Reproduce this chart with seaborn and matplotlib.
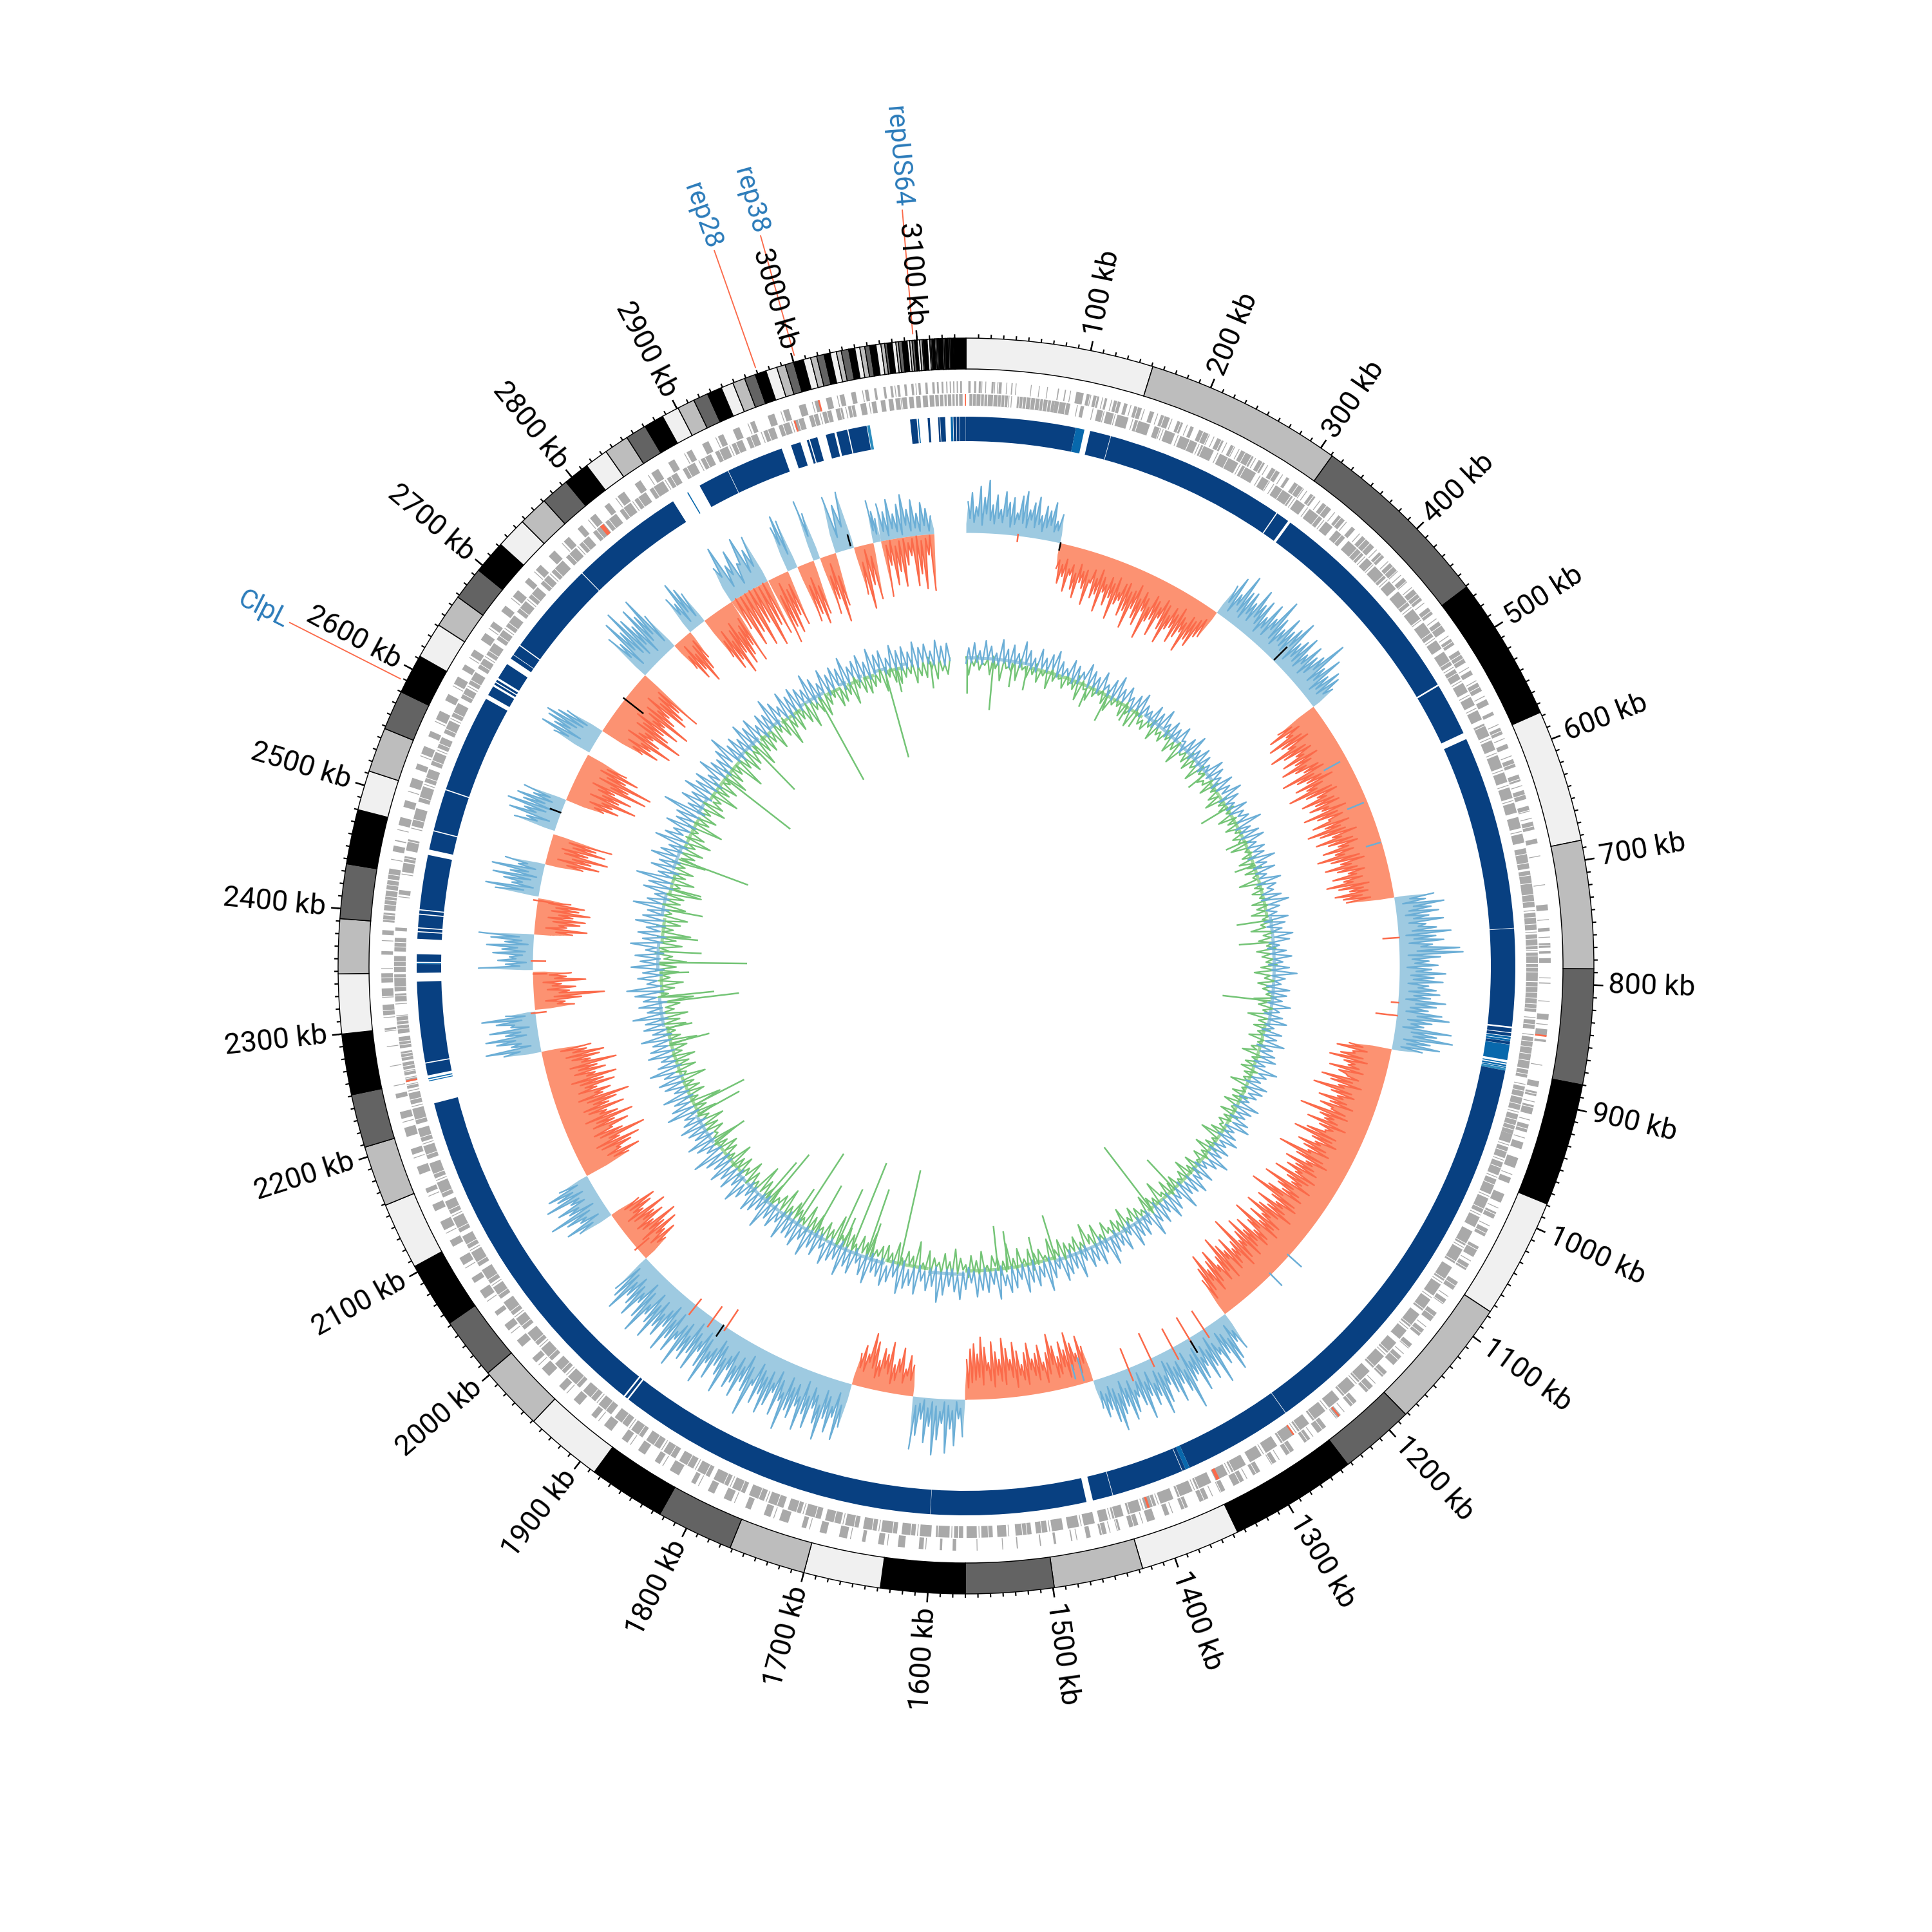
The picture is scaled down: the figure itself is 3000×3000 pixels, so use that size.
import numpy as np
import pandas as pd
import matplotlib
matplotlib.use("Agg")
import matplotlib.pyplot as plt
import seaborn as sns

# genome size and ideogram bands (kb), colours cycle light/mid/dark/black
GENOME_KB = 3139
band_ends = [151, 311, 461, 577, 684, 787, 880, 979, 1076, 1182, 1243, 1346, 1427, 1499, 1570, 1638,
             1700, 1762, 1824, 1886, 1949, 2002, 2052, 2105, 2159, 2208, 2251, 2300, 2348, 2392, 2436, 2480,
             2512, 2548, 2580, 2612, 2641, 2668, 2695, 2722, 2747, 2771, 2794, 2815, 2834, 2854, 2871, 2887,
             2901, 2915, 2927, 2939, 2949, 2959, 2968, 2977, 2986, 2993, 3000, 3008, 3014, 3019, 3025, 3030,
             3035, 3039, 3045, 3050, 3054, 3058, 3062, 3067, 3071, 3074, 3076, 3080, 3083, 3085, 3088, 3092,
             3094, 3096, 3098, 3100, 3102, 3104, 3105, 3108, 3110, 3111, 3112, 3114, 3115, 3116, 3117, 3120,
             3120.3, 3121.4, 3122.5, 3124.3, 3125, 3126, 3127, 3129, 3129.5, 3130, 3130.4, 3139]
band_colors = ["#f0f0f0", "#bdbdbd", "#636363", "#000000"]

# annotated loci: label, position in kb
locus_names = ["repUS64", "rep38", "rep28", "ClpL"]
locus_kb = [3097, 3002, 2970, 2589]

# gene blocks on the two strands (start, length in kb)
fwd_start = [2, 7, 11, 22, 27, 39, 79, 85, 95, 104, 110, 120, 128, 137, 146, 160, 170, 185, 197, 205, 222, 235, 245,
             262, 275, 290, 298, 315, 328, 345, 360, 372, 392, 405, 422, 435, 455, 470, 488, 500, 520, 532, 548, 560,
             575, 590, 604, 618, 632, 646, 660, 675, 732, 752, 765, 772, 778, 799, 826, 839, 848, 884, 893, 905, 922,
             938, 952, 970, 985, 1002, 1018, 1035, 1052, 1070, 1088, 1102, 1120, 1136, 1150, 1168, 1185, 1204, 1222,
             1238, 1255, 1272, 1290, 1306, 1322, 1340, 1356, 1375, 1392, 1405, 1420, 1436, 1448, 1462, 1478, 1492,
             1505, 1525, 1578, 1590, 1606, 1622, 1640, 1656, 1672, 1690, 1708, 1724, 1740, 1758, 1776, 1792, 1810,
             1826, 1845, 1860, 1878, 1895, 1912, 1930, 1948, 1966, 1982, 2000, 2018, 2034, 2052, 2068, 2086, 2104,
             2120, 2138, 2155, 2172, 2190, 2206, 2222, 2240, 2298, 2312, 2327, 2340, 2364, 2381, 2392, 2402, 2420,
             2429, 2453, 2462, 2476, 2492, 2510, 2526, 2540, 2556, 2572, 2590, 2606, 2620, 2634, 2650, 2664, 2680,
             2696, 2712, 2726, 2742, 2760, 2776, 2790, 2806, 2820, 2838, 2855, 2872, 2890, 2905, 2920, 2934, 2950,
             2966, 2980, 2994, 3008, 3018, 3030, 3040, 3052, 3060, 3068, 3074, 3080, 3086, 3092, 3098, 3104, 3110,
             3114, 3118, 3122, 3125, 3128, 3131, 3134]
fwd_len = [2, 2, 3, 3, 4, 1, 1, 1, 6, 4, 5, 2, 6, 3, 7, 4, 8, 5, 3, 10, 6, 4, 12,
           6, 8, 3, 10, 5, 9, 7, 4, 14, 6, 10, 5, 12, 7, 10, 6, 12, 4, 8, 5, 3,
           6, 4, 7, 6, 8, 5, 7, 4, 5, 3, 4, 2, 4, 1, 5, 6, 2, 5, 4, 8, 7,
           6, 9, 5, 8, 6, 7, 10, 6, 8, 5, 9, 7, 5, 10, 6, 8, 7, 5,
           9, 6, 8, 5, 7, 10, 5, 8, 6, 4, 7, 8, 3, 6, 4, 1, 2,
           1, 1, 3, 2, 4, 6, 5, 3, 7, 6, 4, 8, 6, 5, 7, 6, 4,
           9, 5, 7, 6, 8, 5, 7, 6, 9, 5, 7, 6, 4, 8, 5, 7, 6,
           8, 6, 4, 7, 5, 8, 6, 4, 3, 9, 8, 8, 3, 4, 8, 17, 8,
           9, 5, 1, 7, 6, 8, 5, 7, 5, 8, 6, 7, 5, 6, 7, 5, 6,
           7, 5, 6, 7, 6, 5, 6, 5, 7, 6, 7, 6, 5, 6, 5, 6, 4,
           6, 5, 6, 4, 5, 4, 4, 3, 2, 2, 2, 2, 2, 2, 2, 2, 2,
           1.5, 1.5, 1, 1, 1, 1, 1.5]
rev_start = [3, 45, 78, 101, 116, 124, 134, 150, 168, 178, 192, 212, 230, 252, 272, 286, 308, 322, 340, 352, 366,
             388, 398, 416, 428, 448, 463, 482, 494, 512, 526, 540, 553, 566, 582, 596, 612, 626, 640, 653, 668, 681,
             701, 738, 757, 773, 783, 799, 832, 847, 876, 891, 901, 916, 934, 946, 960, 976, 994, 1012, 1026, 1044,
             1062, 1080, 1096, 1112, 1130, 1144, 1160, 1178, 1196, 1214, 1230, 1248, 1264, 1282, 1298, 1314, 1332,
             1348, 1366, 1384, 1400, 1414, 1430, 1444, 1456, 1470, 1484, 1498, 1512, 1534, 1546, 1560, 1572, 1584,
             1600, 1614, 1630, 1648, 1664, 1680, 1698, 1716, 1732, 1750, 1768, 1784, 1802, 1818, 1836, 1852, 1870,
             1886, 1904, 1922, 1940, 1958, 1974, 1992, 2010, 2026, 2044, 2060, 2078, 2096, 2112, 2130, 2146, 2164,
             2182, 2198, 2214, 2232, 2246, 2252, 2258, 2263, 2271, 2282, 2295, 2303, 2323, 2332, 2349, 2367, 2385,
             2417, 2437, 2446, 2456, 2478, 2500, 2518, 2534, 2550, 2564, 2580, 2598, 2612, 2628, 2642, 2658, 2672,
             2688, 2704, 2720, 2734, 2752, 2768, 2784, 2798, 2814, 2830, 2846, 2864, 2880, 2898, 2912, 2928, 2942,
             2958, 2972, 2986, 3000, 3012, 3024, 3035, 3046, 3056, 3064, 3071, 3077, 3083, 3089, 3095, 3101, 3107,
             3112, 3116, 3120, 3123, 3127, 3130, 3133]
rev_len = [35, 33, 14, 3, 5, 7, 10, 14, 6, 9, 16, 12, 18, 14, 8, 18, 9, 14, 8, 10, 18,
           7, 14, 9, 16, 11, 15, 9, 14, 10, 9, 8, 9, 12, 9, 12, 9, 10, 9, 10, 8, 18,
           32, 15, 13, 9, 15, 26, 8, 28, 7, 9, 11, 18, 8, 10, 12, 14, 14, 10, 14, 14,
           14, 12, 12, 14, 10, 12, 14, 14, 14, 12, 14, 12, 14, 12, 12, 14, 12,
           14, 14, 12, 10, 12, 10, 8, 10, 10, 10, 10, 14, 8, 10, 9, 8, 12,
           10, 12, 14, 12, 12, 14, 14, 12, 14, 14, 12, 14, 12, 14, 12, 14, 12,
           14, 14, 14, 14, 12, 14, 14, 12, 14, 12, 14, 14, 12, 14, 12, 14, 14,
           12, 12, 14, 10, 4, 4, 4, 6, 8, 10, 7, 8, 7, 15, 14, 12, 3,
           4, 8, 5, 10, 16, 14, 12, 12, 10, 12, 13, 10, 12, 10, 12, 10, 12,
           12, 12, 10, 14, 12, 11, 10, 12, 12, 12, 14, 10, 12, 10, 12, 10, 10,
           10, 10, 9, 8, 8, 6, 6, 5, 4, 4, 4, 4, 4, 4, 4, 4, 4,
           3, 3, 2, 3, 2, 2, 3]
# single thin genes standing alone on each strand (kb)
fwd_thin_kb = [17, 35, 43, 56, 63, 70, 90, 101, 118, 126, 143, 155, 167, 180, 194, 219, 231, 243, 259, 271, 286, 311, 325, 341, 354, 369,
               389, 403, 419, 433, 450, 467, 485, 517, 530, 545, 572, 585, 601, 628, 657, 690, 715, 745, 760, 795, 815, 835, 870, 902, 918,
               934, 967, 998, 1015, 1049, 1085, 1117, 1147, 1182, 1218, 1252, 1287, 1319, 1352, 1389, 1416, 1445, 1474, 1538, 1560, 1604, 1637,
               1669, 1705, 1737, 1773, 1807, 1842, 1875, 1909, 1945, 1979, 2015, 2049, 2083, 2117, 2152, 2187, 2219, 2251, 2268, 2285, 2310, 2352,
               2376, 2446, 2472, 2506, 2538, 2570, 2604, 2632, 2662, 2694, 2724, 2758, 2788, 2818, 2852, 2888, 2918, 2948, 2978, 3006, 3028, 3050, 3078, 3096]
rev_thin_kb = [40, 98, 112, 122, 132, 148, 176, 190, 210, 228, 250, 270, 284, 306, 320, 338, 386, 396, 414, 446, 460, 480, 510, 524, 538,
               551, 580, 594, 610, 624, 638, 666, 736, 755, 771, 830, 845, 873, 889, 914, 944, 958, 974, 992, 1010, 1042, 1078, 1094, 1128, 1158,
               1194, 1228, 1262, 1296, 1330, 1364, 1398, 1412, 1442, 1468, 1496, 1532, 1558, 1582, 1612, 1646, 1678, 1714, 1748, 1782, 1816, 1850,
               1884, 1920, 1956, 1990, 2024, 2058, 2094, 2128, 2162, 2196, 2230, 2244, 2269, 2301, 2321, 2415, 2435, 2476, 2516, 2548, 2578, 2610,
               2640, 2670, 2702, 2732, 2766, 2796, 2828, 2862, 2896, 2926, 2956, 2984, 3010, 3033, 3054, 3082, 3105]
# thin white breaks between neighbouring genes (kb)
gene_cut_kb = [6, 9, 13, 16, 19, 24, 28, 31, 34, 37, 47, 50, 53, 57, 61, 65, 68, 72, 75, 82, 88, 92, 107, 113, 131, 149, 153, 164, 173, 188,
               201, 209, 214, 226, 238, 249, 255, 266, 279, 293, 302, 307, 318, 332, 348, 358, 364, 376, 381, 395, 409, 414, 426, 440, 444, 459,
               474, 491, 504, 508, 516, 536, 568, 578, 608, 622, 636, 650, 664, 686, 694, 705, 712, 722, 728, 742, 748, 761, 767, 776, 786, 790,
               803, 808, 813, 818, 822, 836, 851, 856, 862, 868, 880, 895, 907, 921, 926, 930, 950, 965, 981, 1004, 1022, 1038, 1056, 1074, 1092,
               1106, 1124, 1140, 1154, 1172, 1190, 1208, 1226, 1242, 1258, 1276, 1294, 1310, 1326, 1344, 1360, 1378, 1403, 1424, 1438, 1452, 1466,
               1481, 1503, 1516, 1520, 1550, 1576, 1594, 1618, 1634, 1652, 1668, 1686, 1703, 1720, 1738, 1755, 1772, 1788, 1806, 1824, 1841, 1858,
               1874, 1892, 1910, 1927, 1944, 1962, 1978, 1996, 2014, 2030, 2048, 2064, 2082, 2100, 2116, 2134, 2150, 2168, 2186, 2202, 2218, 2236,
               2249, 2255, 2261, 2266, 2274, 2277, 2285, 2288, 2299, 2306, 2310, 2316, 2328, 2336, 2344, 2354, 2358, 2371, 2375, 2394, 2398, 2407,
               2411, 2414, 2424, 2433, 2449, 2464, 2468, 2484, 2504, 2522, 2538, 2554, 2568, 2584, 2602, 2616, 2632, 2646, 2662, 2676, 2692, 2708,
               2724, 2738, 2756, 2772, 2788, 2802, 2818, 2834, 2850, 2868, 2884, 2902, 2916, 2932, 2946, 2962, 2976, 2990, 3004, 3016, 3028, 3038]
# orange marks among the gene blocks (kb, track radius, width)
mark_kb = [844, 1223, 1264, 1340, 1406, 2252, 2792, 2986, 3011, 3138]
mark_r = [890, 890, 870, 870, 870, 870, 870, 870, 890, 870]
mark_w = [1.5, 1.5, 1.5, 3, 2, 1.5, 4, 1.5, 1.5, 1]

# heatmap ring segments (start, end kb, shade)
ring_start = [0, 100.7, 114, 133.5, 301, 315.5, 517.5, 572, 750.5, 841.5, 846, 849.3, 851.7, 853.7, 856.5, 873, 875, 877,
              878.3, 880.5, 1259.5, 1360, 1364, 1367.5, 1434.5, 1459, 1602.3, 1901.5, 1905.5, 2248.5, 2250.5, 2254, 2266,
              2348, 2356, 2358, 2379, 2386, 2389.5, 2402, 2406, 2461, 2479, 2518, 2612, 2623, 2626, 2630, 2651, 2655.5,
              2666, 2752.7, 2873, 2886, 2915.5, 2977, 2992, 2995, 3010, 3020, 3031, 3048.5, 3088, 3095, 3104, 3113.5,
              3115.5, 3125, 3127.5, 3130.5, 3133.5]
ring_end = [100.7, 108.6, 133, 300, 313, 516, 566, 750, 840, 845.3, 848.7, 851.2, 853.5, 856.3, 870.8, 874, 876.5, 878,
            880.5, 1259, 1360, 1364, 1367, 1434, 1453, 1602, 1900, 1904, 2228, 2249.3, 2251.5, 2265, 2340,
            2356, 2357, 2365, 2385, 2388.5, 2401, 2405, 2456, 2478, 2517, 2608, 2621, 2625, 2628, 2645, 2655, 2665,
            2752, 2858, 2874, 2915, 2968, 2986, 2994, 3002, 3018, 3030, 3048, 3051, 3094, 3096, 3106, 3115,
            3120, 3127, 3130, 3133, 3138.8]
ring_shade = [0, 1, 0, 0, 0, 0, 0, 0, 0, 0, 0, 1, 1, 0, 1, 1, 1, 1,
              2, 0, 0, 1, 0, 0, 0, 0, 0, 0, 0, 1, 1, 0, 0,
              0, 1, 0, 0, 0, 0, 0, 0, 0, 0, 0, 0, 0, 0, 0, 0, 0,
              0, 0, 1, 0, 0, 0, 0, 0, 0, 0, 0, 2, 0, 1, 0, 0,
              0, 1, 0, 0, 0]
ring_colors = ["#084081", "#0868ac", "#2b8cbe"]

# strand-bias histogram: sectors and spike heights (px from the base radius)
sector_start = [0, 109, 308, 464, 705, 881, 1250, 1421, 1571, 1631, 1703, 1985, 2049, 2102, 2255, 2304, 2350, 2391,
                2435, 2473, 2513, 2551, 2612, 2641, 2722, 2770, 2794, 2815, 2853, 2902, 2927, 2939, 2959, 2967, 2986,
                3008, 3031, 3040, 3040, 2853]
sector_end = [109, 308, 464, 705, 881, 1250, 1421, 1571, 1631, 1703, 1985, 2049, 2102, 2255, 2302, 2348, 2391, 2433,
              2473, 2509, 2551, 2609, 2641, 2722, 2770, 2794, 2815, 2853, 2901, 2927, 2939, 2959, 2967, 2986, 3008,
              3031, 3040, 3102, 3102, 2901]
sector_sign = [1, -1, 1, -1, 1, -1, 1, -1, 1, -1, 1, -1, 1, -1, 1, -1, 1, -1,
               1, -1, 1, -1, 1, -1, 1, -1, 1, -1, 1, -1, 1, -1, 1, -1, 1,
               -1, 1, 1, -1, -1]
sector_peaks = [
    [48, 62, 40, 72, 55, 82, 44, 60, 38, 66, 50, 58, 35, 62, 70, 42, 54, 64, 36, 52, 46, 60, 32, 44],
    [40, 62, 50, 72, 45, 66, 78, 52, 60, 84, 48, 70, 62, 88, 55, 74, 60, 92, 66, 58, 80, 70, 96, 62, 75, 84, 58, 101, 70, 64, 88, 56, 72, 92, 66, 60, 82, 70, 58, 88, 64, 72, 52, 48],
    [52, 70, 45, 82, 58, 62, 48, 76, 55, 66, 42, 70, 50, 88, 60, 46, 72, 54, 64, 82, 48, 58, 70, 44, 66, 52, 60, 93, 50, 74, 46, 62, 56, 40],
    [70, 88, 62, 96, 78, 70, 104, 84, 66, 92, 74, 100, 80, 68, 108, 86, 72, 94, 78, 110, 84, 68, 96, 76, 88, 70, 102, 82, 66, 94, 76, 106, 88, 70, 98, 80, 66, 92, 74, 104, 84, 70, 96, 78, 62, 88, 72, 100, 82, 66, 90, 78, 74],
    [62, 48, 76, 55, 66, 50, 72, 44, 60, 82, 58, 70, 52, 94, 99, 64, 46, 60, 50, 72, 54, 68, 46, 58, 64, 50, 74, 60, 48, 70, 82, 56, 44, 88, 66, 92, 58, 74, 48],
    [66, 84, 58, 76, 92, 68, 60, 88, 72, 56, 96, 80, 66, 104, 74, 62, 90, 70, 84, 64, 112, 78, 68, 94, 72, 60, 88, 106, 74, 66, 92, 80, 70, 116, 84, 64, 96, 76, 88, 70, 102, 78, 66, 110, 84, 72, 94, 120, 80, 68, 98, 76, 88, 106, 74, 92, 70, 112, 84, 66, 96, 78, 104, 86, 72, 118, 80, 70, 94, 76, 90, 108, 78, 66, 96, 82, 70, 100, 80, 62],
    [62, 46, 72, 86, 54, 68, 48, 92, 60, 78, 52, 70, 86, 56, 64, 105, 74, 58, 84, 66, 50, 76, 92, 60, 72, 54, 88, 64, 48, 70, 80, 56, 66, 90, 74, 52, 62, 46],
    [56, 74, 48, 66, 84, 58, 72, 50, 68, 88, 60, 46, 74, 62, 54, 80, 66, 48, 70, 84, 58, 76, 92, 60, 72, 88, 56, 80, 96, 70, 86, 78, 62],
    [58, 30, 72, 46, 84, 38, 64, 88, 44, 70, 34, 60, 82],
    [48, 62, 40, 72, 54, 44, 78, 58, 66, 46, 74, 86, 52, 64, 50],
    [70, 92, 58, 84, 64, 100, 76, 54, 88, 68, 96, 60, 82, 72, 106, 62, 88, 54, 78, 94, 66, 84, 58, 110, 74, 62, 90, 70, 82, 56, 98, 72, 60, 86, 64, 102, 78, 56, 92, 68, 84, 74, 104, 62, 88, 70, 96, 58, 80, 68, 94, 72, 62, 100, 78, 56, 86, 70, 60, 92, 74, 66],
    [44, 66, 52, 78, 60, 85, 48, 70, 58, 82, 46, 64, 74, 50],
    [56, 74, 46, 66, 90, 54, 70, 44, 82, 60, 72, 50],
    [76, 96, 68, 88, 104, 74, 118, 84, 70, 98, 78, 110, 88, 72, 102, 80, 94, 116, 76, 90, 70, 100, 84, 106, 74, 92, 80, 112, 72, 88, 96, 70, 78],
    [58, 85, 44, 66, 82, 50, 74, 40, 62, 84, 46],
    [62, 48, 74, 110, 56, 66, 44, 82, 52, 60],
    [84, 42, 54, 36, 62, 48, 72, 44, 66, 85],
    [60, 82, 50, 70, 78, 58, 84, 66, 74, 52],
    [68, 84, 44, 58, 76, 50, 80, 40, 62],
    [60, 84, 70, 95, 62, 88, 72, 96],
    [66, 48, 78, 56, 85, 62, 74, 50, 68],
    [62, 84, 72, 108, 78, 96, 66, 116, 84, 120, 74, 92, 70],
    [64, 88, 70, 84, 90, 74, 62],
    [72, 96, 80, 112, 88, 74, 120, 94, 82, 104, 76, 116, 86, 72, 100, 90, 78, 110],
    [78, 60, 96, 72, 105, 84, 66, 92, 74, 100, 64],
    [50, 72, 60, 85, 66, 48],
    [62, 48, 80, 66, 54],
    [72, 96, 84, 110, 78, 100, 88, 74, 104],
    [58, 88, 52, 72, 46, 84, 60, 78],
    [108, 84, 96, 70, 88],
    [72, 88, 78],
    [92, 82, 100, 86],
    [96, 74],
    [92, 70, 108, 84],
    [88, 72, 90],
    [76, 100, 64, 88],
    [66, 48, 36],
    [58, 44, 62, 38, 52, 66, 42, 56, 34, 50, 40, 28],
    [88, 40, 72, 52, 76, 44, 30, 78, 60, 84, 32, 88],
    [52, 84, 66, 92, 58, 100, 70, 88],
]
# the low point next to each spike, per sector
sector_lows = [
    [14, 22, 16, 26, 12, 30, 20, 15, 24, 18, 28, 12, 17, 25, 20, 14, 27, 16, 22, 12, 19, 24, 15, 18, 13],
    [18, 26, 32, 22, 36, 28, 40, 24, 34, 30, 44, 26, 38, 22, 32, 42, 28, 36, 24, 46, 30, 26, 38, 34, 22, 42, 28, 36, 48, 26, 32, 40, 24, 30, 44, 28, 36, 22, 34, 40, 26, 30, 24, 18, 14],
    [16, 24, 12, 28, 20, 14, 26, 18, 30, 22, 12, 24, 16, 32, 20, 14, 26, 22, 18, 34, 12, 24, 20, 16, 28, 14, 22, 36, 18, 26, 12, 20, 16, 24, 12],
    [30, 46, 36, 52, 40, 32, 58, 44, 38, 54, 34, 48, 60, 42, 36, 56, 46, 30, 50, 62, 40, 34, 54, 44, 38, 58, 32, 48, 42, 64, 36, 52, 46, 30, 56, 40, 34, 50, 44, 60, 38, 32, 54, 46, 36, 50, 42, 58, 34, 44, 38, 48, 36, 24],
    [16, 24, 12, 28, 20, 14, 26, 18, 32, 22, 12, 24, 16, 34, 28, 14, 20, 24, 12, 26, 18, 22, 14, 30, 16, 24, 12, 28, 20, 14, 32, 18, 24, 12, 26, 30, 16, 22, 14, 12],
    [30, 44, 36, 54, 40, 32, 50, 42, 34, 60, 38, 46, 30, 56, 42, 36, 52, 44, 32, 62, 40, 34, 54, 46, 30, 48, 58, 38, 42, 32, 56, 44, 36, 64, 40, 30, 52, 46, 38, 60, 34, 42, 50, 32, 58, 44, 36, 66, 40, 34, 54, 46, 30, 50, 60, 38, 44, 32, 62, 42, 36, 52, 46, 34, 58, 40, 30, 54, 44, 38, 62, 32, 48, 36, 56, 42, 30, 52, 38, 26, 20],
    [18, 28, 14, 34, 22, 16, 38, 26, 12, 30, 20, 36, 16, 24, 32, 14, 40, 22, 28, 18, 12, 34, 26, 20, 38, 16, 30, 12, 24, 36, 18, 28, 14, 32, 22, 16, 26, 20, 14],
    [20, 30, 16, 36, 24, 14, 32, 22, 18, 40, 26, 14, 34, 20, 28, 38, 16, 24, 32, 14, 30, 42, 20, 26, 36, 18, 28, 44, 22, 34, 30, 26, 18, 14],
    [6, 14, 4, 18, 10, 5, 20, 12, 6, 16, 4, 10, 14, 6],
    [16, 24, 30, 18, 34, 20, 14, 28, 36, 22, 18, 32, 40, 24, 28, 14],
    [24, 36, 18, 42, 28, 20, 46, 32, 22, 38, 16, 44, 26, 34, 20, 48, 30, 18, 40, 24, 36, 28, 20, 50, 32, 16, 38, 26, 44, 22, 34, 42, 24, 18, 36, 46, 28, 20, 40, 30, 16, 44, 26, 34, 50, 22, 38, 18, 30, 42, 24, 36, 20, 46, 28, 16, 40, 32, 22, 36, 26, 18, 14],
    [18, 30, 22, 38, 16, 34, 26, 20, 36, 24, 16, 30, 28, 22, 14],
    [20, 30, 16, 34, 24, 14, 36, 22, 28, 18, 32, 20, 14],
    [36, 52, 44, 62, 40, 34, 58, 46, 38, 66, 42, 50, 34, 60, 44, 38, 56, 48, 36, 64, 40, 52, 46, 34, 60, 42, 50, 38, 58, 44, 36, 48, 30, 22],
    [20, 32, 14, 28, 36, 18, 26, 12, 34, 22, 16, 12],
    [24, 36, 18, 32, 40, 22, 30, 16, 34, 26, 18],
    [14, 20, 10, 26, 16, 12, 24, 8, 18, 22, 12],
    [24, 34, 18, 38, 28, 20, 36, 24, 30, 18, 14],
    [12, 24, 10, 28, 16, 8, 22, 12, 26, 10],
    [22, 34, 18, 40, 26, 20, 36, 28, 18],
    [16, 30, 12, 36, 22, 14, 28, 18, 24, 12],
    [30, 46, 36, 54, 32, 50, 40, 28, 56, 34, 44, 30, 38, 26],
    [26, 40, 22, 44, 36, 28, 24, 20],
    [36, 54, 42, 62, 34, 50, 58, 38, 46, 30, 56, 44, 36, 52, 28, 48, 40, 34, 26],
    [20, 34, 14, 38, 26, 18, 32, 12, 28, 36, 16, 12],
    [16, 28, 12, 32, 20, 14, 10],
    [18, 30, 12, 26, 14, 10],
    [24, 44, 30, 52, 36, 26, 46, 38, 28, 20],
    [26, 40, 18, 34, 14, 42, 24, 30, 18],
    [18, 30, 12, 26, 20, 10],
    [28, 42, 24, 16],
    [20, 34, 24, 40, 16],
    [26, 38, 18],
    [18, 32, 14, 36, 12],
    [30, 22, 36, 14],
    [12, 26, 8, 20, 14],
    [10, 18, 12, 8],
    [8, 14, 6, 16, 10, 4, 18, 8, 12, 6, 14, 5, 8],
    [3, 8, 2, 12, 5, 3, 10, 4, 1, 9, 6, 2, 4],
    [1, 0, 2, 1, 0, 1, 3, 0, 1],
]
# single spikes lying across the sectors (kb, inner r, outer r, colour)
cross_kb = [752, 827, 842, 60, 1280, 1300, 1322, 1350, 1378, 2000, 1905, 1880, 1862, 2430, 2360, 2345, 2300, 535, 590, 640, 1150, 1180, 1431, 1440,
            2535, 2686, 3005, 394, 110, 1300, 1866]
cross_r0 = [648, 662, 640, 663, 640, 636, 640, 630, 640, 648, 660, 650, 640, 648, 652, 650, 655, 633, 640, 648, 670, 670, 632, 640,
            672, 636, 676, 674, 661, 678, 672]
cross_r1 = [675, 675, 675, 676, 690, 686, 695, 688, 695, 678, 692, 690, 680, 680, 676, 673, 680, 662, 668, 672, 700, 698, 670, 664,
            691, 676, 695, 703, 674, 700, 694]
cross_color = ["o", "o", "o", "o", "o", "o", "o", "o", "o", "o", "o", "o", "o", "o", "o", "o", "o", "b", "b", "b", "b", "b", "b", "b",
               "k", "k", "k", "k", "k", "k", "k"]

# GC ring: spikes outward (blue) and inward (green), px from its base radius
gc_blue = [18, 26, 14, 30, 22, 12, 34, 20, 28, 16, 36, 24, 14, 30, 18, 26, 34, 20, 12, 28, 22, 16, 32, 24, 18, 30, 14, 26, 36, 20,
           28, 16, 24, 32, 18, 14, 28, 22, 34, 16, 26, 20, 30, 12, 24, 36, 18, 28, 22, 14, 32, 26, 16, 30, 20, 34, 24, 12, 28, 18,
           22, 38, 16, 26, 30, 14, 24, 20, 34, 18, 28, 12, 32, 22, 16, 26, 36, 20, 14, 30, 24, 18, 34, 28, 12, 22, 30, 16, 26, 38,
           20, 14, 28, 24, 18, 32, 16, 22, 30, 12, 26, 20, 34, 18, 24, 28, 14, 36, 22, 16, 30, 26, 20, 12, 32, 24, 18, 28, 34, 14,
           22, 30, 16, 26, 20, 38, 24, 12, 30, 18, 34, 26, 22, 40, 16, 28, 36, 20, 32, 24, 42, 18, 30, 26, 38, 14, 34, 22, 28, 44,
           20, 36, 26, 32, 18, 42, 24, 30, 38, 16, 28, 46, 22, 34, 26, 40, 18, 30, 36, 24, 44, 20, 32, 28, 38, 16, 26, 42, 30, 22,
           36, 48, 24, 32, 18, 40, 28, 34, 44, 20, 30, 38, 26, 22, 42, 32, 16, 36, 28, 46, 24, 30, 40, 18, 34, 26, 44, 22, 38, 30,
           28, 42, 20, 34, 26, 48, 24, 32, 38, 18, 30, 44, 22, 36, 28, 40, 26, 34, 50, 20, 32, 42, 24, 30, 38, 28, 22, 46, 34, 26,
           40, 18, 30, 36, 24, 44, 28, 20, 38, 32, 26, 42, 22, 34, 30, 48, 24, 36, 28, 40, 52, 20, 34, 26, 44, 30, 38, 22, 46, 28,
           36, 24, 42, 32, 26, 50, 30, 20, 40, 34, 56, 24, 38, 28, 44, 32, 22, 48, 36, 26, 42, 30, 34, 60, 24, 40, 28, 46, 32, 38,
           22, 44, 30, 26, 36, 52, 28, 34, 24, 42, 30, 38, 20, 32, 26, 46, 34, 22, 40, 28, 36, 30, 24, 44, 32, 20, 38, 26, 34, 28,
           42, 24, 30, 36, 22, 40, 28, 32, 18, 36, 26, 30, 20, 34, 24, 28, 16, 32, 22, 26]
gc_green = [24, 10, 16, 8, 22, 12, 30, 10, 14, 26, 8, 18, 12, 22, 10, 28, 14, 8, 20, 12, 16, 30, 10, 24, 14, 8, 18, 26, 12, 10,
            22, 14, 30, 8, 16, 20, 10, 26, 12, 18, 8, 24, 14, 32, 10, 16, 22, 12, 28, 8, 18, 14, 24, 10, 20, 30, 12, 16, 8, 26,
            14, 22, 10, 18, 12, 28, 8, 16, 24, 14, 20, 10, 34, 12, 18, 8, 22, 16, 26, 10, 14, 30, 12, 20, 8, 24, 16, 10, 18, 28,
            12, 22, 14, 8, 26, 18, 10, 32, 14, 20, 12, 24, 8, 16, 28, 10, 18, 22, 14, 12, 30, 8, 20, 16, 26, 10, 24, 14, 18, 12,
            22, 34, 10, 16, 28, 12, 20, 8, 24, 14, 30, 18, 10, 22, 16, 26, 12, 36, 14, 20, 28, 10, 18, 24, 12, 32, 16, 22, 14, 26,
            10, 30, 18, 38, 12, 24, 16, 20, 28, 14, 34, 10, 22, 18, 26, 12, 30, 16, 40, 14, 20, 24, 10, 32, 18, 26, 12, 22, 36, 16,
            28, 14, 20, 30, 10, 42, 18, 24, 12, 34, 16, 26, 22, 14, 38, 20, 28, 12, 24, 32, 16, 44, 18, 26, 14, 30, 22, 36, 12, 20,
            28, 16, 40, 24, 14, 32, 18, 26, 46, 12, 22, 34, 16, 28, 20, 38, 14, 24, 30, 18, 42, 12, 26, 22, 36, 16, 32, 20, 48, 14,
            28, 24, 18, 40, 12, 30, 22, 34, 16, 26, 44, 20, 14, 32, 24, 38, 18, 28, 50, 12, 22, 36, 16, 30, 26, 42, 20, 14, 34, 24,
            46, 18, 28, 38, 12, 32, 22, 26, 52, 16, 36, 20, 30, 14, 44, 24, 34, 18, 40, 26, 12, 48, 22, 30, 16, 36, 28, 20, 44, 24,
            32, 14, 38, 26, 18, 50, 22, 34, 28, 16, 42, 24, 30, 20, 36, 14, 26, 46, 22, 32, 18, 28, 40, 16, 24, 34, 20, 12, 30, 26,
            18, 36, 14, 24, 28, 20, 16, 32, 12, 22, 26, 18, 14, 30, 20, 24, 12, 28, 16, 22]
# lows cross the base radius, so the blue and green traces weave through each other
gc_low = [-4, 1, -6, 4, -2, -7, 0, -5, 6, -3, -8, 2, -1, -6, 3, -4, -7, -2, 5, -5, 0, -8, -3, 7, -6, 1, -2, -7, 4, -4, -1, -5, 2, -8, -3, 6, 0, -6, -2, 3, -7, -4, 1, -5, 5, -1, -8, -3, 2, -6, 0, 8, -4, -7, -2, 4, -5, 1, -8, -1,
          -3, -6, 3, -4, 6, -7, 0, -2, -5, 2, -8, -3, 5, -6, -1, 1, -7, -4, 4, -2, -5, 7, -8, 0, -3, -6, 2, -1, -7, -4, 3, -5, 1, -2, -8, 5, -6, -3, 0, -4,
          -7, 2, -1, -5, 6, -8, -2, 1, -6, -3, 4, -4, 0, -7, -5, 3, -2, -8, -1, 8, -6, -3, 2, -4, -7, 1, -5, 5, -2, -8, 0, -6, 4, -3, -1, -7, -4, 7, -5, 2,
          -8, -2, 1, -6, 3, -3, -7, 0, -4, 6, -5, -1, -8, 4, -2, -6, 2, -3, -7, 1, -4, -5, 5, -1, -8, -2, 3, -6, 0, -3, -7, 8, -4, 1, -5, -1, -8, 4, -2, -6,
          2, -3, 6, -7, 0, -4, -5, 3, -1, -8, -2, 1, -6, 5, -3, -7, 2, -4, 0, -5, 7, -8, -1, -2, -6, 4, -3, -7, 1, -4, 3, -5, -8, 0, 6, -2, -6, -3, 2, -7,
          -1, -4, 4, -5, 1, -8, -2, -6, 5, -3, -7, 0, 8, -4, -5, 2, -1, -8, 3, -2, -6, -3, 1, -7, 6, -4, 0, -5, -8, 4, -1, -2, -6, 2, -3, -7, -4, 5, 1, -5,
          -8, 0, -2, 3, -6, -3, 7, -7, -1, -4, -5, 2, -8, 4, -2, 1, -6, -3, -7, 0, 6, -4, -5, -1, -8, 3, -2, -6, 5, -3, 2, -7, -4, 1, -5, 0, -8, 8, -1, -2,
          -6, 4, -3, -7, -4, 2, -5, 1, -8, 6, 0, -2, -6, -3, 3, -7, -1, -4, 5, -5, -8, 1, -2, -6, 4, -3, 0, -7, -4, 2, -5, -1, -8, -2, -6, -3, 1, -7, -4, -5, -6]

long_green_kb = [2, 45, 76, 101, 205, 241, 278, 298, 447, 513, 575, 617, 710, 746, 842, 1194, 1244, 1421, 1456, 1500, 1517, 1679, 1729, 1735, 1761, 1776,
                 1786, 1827, 1858, 1868, 1916, 1925, 2050, 2102, 2118, 2226, 2252, 2295, 2304, 2343, 2360, 2378, 2402, 2447, 2482, 2532, 2685, 2754, 2888, 3005, 3024, 3081]
long_green_d = [53, 77, 38, 39, 37, 46, 27, 27, 33, 49, 34, 34, 51, 51, 75, 64, 122, 71, 44, 60, 70, 151, 55, 109, 146, 49,
                94, 84, 128, 57, 95, 73, 56, 74, 89, 64, 42, 121, 83, 46, 136, 65, 58, 60, 51, 115, 130, 94, 146, 140, 39, 42]

R_BAND_IN, R_BAND_OUT = 927, 975
R_BASE, R_GC = 673, 476
LINE_BLUE, FILL_BLUE = "#6baed6", "#9ecae1"
LINE_ORANGE, FILL_ORANGE = "#fb6a4a", "#fc9272"
LINE_GREEN, FILL_GREEN = "#74c476", "#a1d99b"
LABEL_BLUE = "#2b7bba"
GENE_GREY = "#a9a9a9"


def to_theta(kb):
    return np.asarray(kb, dtype=float) / GENOME_KB * 2 * np.pi


def zigzag(start, end, peaks, lows):
    # lows sit between the spikes; np.resize only squares up a list that came out a value short or long
    kb = np.linspace(start, end, 2 * len(peaks) + 1)
    vals = np.empty(kb.shape)
    vals[0::2] = np.resize(lows, len(peaks) + 1)
    vals[1::2] = peaks
    return kb, vals


def spikes(kb, r, color, ax):
    df = pd.DataFrame({"theta": to_theta(kb), "r": r})
    sns.lineplot(data=df, x="theta", y="r", color=color, linewidth=0.55, estimator=None,
                 sort=False, legend=False, ax=ax)


def radial_label(ax, kb, r, text, **kw):
    deg = kb / GENOME_KB * 360
    if deg < 180:
        rot, ha = 90 - deg, "left"
    else:
        rot, ha = 270 - deg, "right"
    ax.text(to_theta(kb), r, text, rotation=rot, ha=ha, va="center", rotation_mode="anchor", **kw)


sns.set_theme(style="white")
plt.rcParams["font.family"] = ["Roboto", "DejaVu Sans"]

fig = plt.figure(figsize=(10, 10), dpi=300)
ax = fig.add_axes([0, 0, 1, 1], projection="polar")
ax.set_theta_zero_location("N")
ax.set_theta_direction(-1)

# ideogram
starts = np.r_[0, band_ends[:-1]]
ends = np.array(band_ends)
colors = [band_colors[i % 4] for i in range(len(ends))]
ax.bar(to_theta(starts), R_BAND_OUT - R_BAND_IN, width=to_theta(ends - starts), bottom=R_BAND_IN, align="edge",
       color=colors, edgecolor="black", linewidth=0.35)

# ticks and position labels
minor = np.arange(10, GENOME_KB, 10)
ax.vlines(to_theta(minor), R_BAND_OUT, R_BAND_OUT + 6, color="black", linewidth=0.5)
major = np.arange(100, GENOME_KB, 100)
ax.vlines(to_theta(major), R_BAND_OUT, R_BAND_OUT + 15, color="black", linewidth=0.6)
for kb in major:
    radial_label(ax, kb, 998, f"{kb} kb", fontsize=10.8, color="black")

# annotated loci
for name, kb in zip(locus_names, locus_kb):
    ax.plot(to_theta([kb, kb]), [985, 1178], color=LINE_ORANGE, linewidth=0.45)
    radial_label(ax, kb, 1182, name, fontsize=10, color=LABEL_BLUE)

# gene tracks
fwd_s, fwd_l = np.array(fwd_start, dtype=float), np.array(fwd_len, dtype=float)
rev_s, rev_l = np.array(rev_start, dtype=float), np.array(rev_len, dtype=float)
ax.bar(to_theta(fwd_s), 18, width=to_theta(fwd_l), bottom=890, align="edge", color=GENE_GREY, linewidth=0)
ax.bar(to_theta(rev_s), 18, width=to_theta(rev_l), bottom=870, align="edge", color=GENE_GREY, linewidth=0)
ax.vlines(to_theta(gene_cut_kb), 870, 908, color="white", linewidth=0.25)
ax.vlines(to_theta(fwd_thin_kb), 890, 908, color=GENE_GREY, linewidth=0.3)
ax.vlines(to_theta(rev_thin_kb), 870, 888, color=GENE_GREY, linewidth=0.3)
ax.bar(to_theta(mark_kb), 18, width=to_theta(mark_w), bottom=mark_r, align="edge", color=LINE_ORANGE, linewidth=0)

# heatmap ring
ring_s, ring_e = np.array(ring_start), np.array(ring_end)
ax.bar(to_theta(ring_s), 38, width=to_theta(ring_e - ring_s), bottom=815, align="edge",
       color=[ring_colors[i] for i in ring_shade], linewidth=0)

# strand-bias histogram
for start, end, sign, lows, peaks in zip(sector_start, sector_end, sector_sign, sector_lows, sector_peaks):
    kb, vals = zigzag(start, end, peaks, lows)
    fill, line = (FILL_BLUE, LINE_BLUE) if sign > 0 else (FILL_ORANGE, LINE_ORANGE)
    ax.fill_between(to_theta(kb), R_BASE, R_BASE + sign * vals, color=fill, linewidth=0)
    spikes(kb[1:-1], R_BASE + sign * vals[1:-1], line, ax)
cross_map = {"o": LINE_ORANGE, "b": LINE_BLUE, "k": "black"}
ax.vlines(to_theta(cross_kb), cross_r0, cross_r1, color=[cross_map[c] for c in cross_color], linewidth=0.6)

# GC ring
for start, end, sign in zip(sector_start[:37], sector_end[:37], sector_sign[:37]):
    fill = FILL_BLUE if sign > 0 else FILL_GREEN
    ax.bar(to_theta(start), sign * 5, width=to_theta(end - start), bottom=R_GC, align="edge", color=fill, linewidth=0)
kb, vals = zigzag(0, 3113, gc_green, gc_low)
spikes(kb, R_GC - vals, LINE_GREEN, ax)
ax.vlines(to_theta(long_green_kb), R_GC - np.array(long_green_d), R_GC, color=LINE_GREEN, linewidth=0.6)
kb, vals = zigzag(0, 3113, gc_blue, gc_low[::-1])
spikes(kb, R_GC + vals, LINE_BLUE, ax)

ax.set_xlim(0, 2 * np.pi)
ax.set_ylim(0, 1500)
ax.axis("off")
fig.savefig("out.png", dpi=300, facecolor="white")
